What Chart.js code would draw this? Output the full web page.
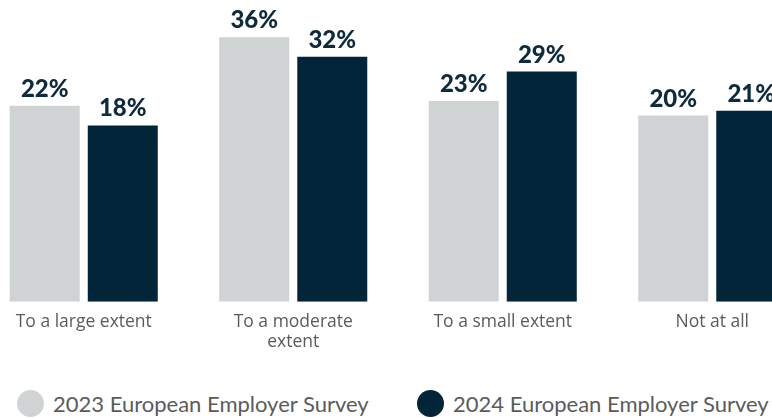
<!DOCTYPE html>
<html>
<head>
<meta charset="utf-8">
<script src="https://cdn.jsdelivr.net/npm/chart.js@4.4.1/dist/chart.umd.min.js"></script>
<style>
  body { margin: 0; width: 772px; height: 418px; overflow: hidden; background: #fff; position: relative; font-family: Lato, sans-serif; }
  #wrap { position: absolute; left: -21px; top: 0; width: 838px; height: 362px; }
  .legend-item { position: absolute; top: 389px; height: 28px; display: flex; align-items: center; color: #5b5b5b; font-size: 22px; white-space: nowrap; }
  .legend-item span.dot { width: 27px; height: 27px; border-radius: 50%; margin-right: 9px; display: inline-block; }
</style>
</head>
<body>
<div id="wrap"><canvas id="extentChart"></canvas></div>
<div class="legend-item" style="left:17px"><span class="dot" style="background:#cfd3d4"></span>2023 European Employer Survey</div>
<div class="legend-item" style="left:417px"><span class="dot" style="background:#02253a"></span>2024 European Employer Survey</div>
<script>
  // Categories and survey results (percent)
  const categories = ['To a large extent', ['To a moderate', 'extent'], 'To a small extent', 'Not at all'];
  const survey2023 = [22, 36, 23, 20];
  const survey2024 = [18, 32, 29, 21];

  const gray = '#cfd3d4';
  const navy = '#02253a';
  const axisMin = -18;

  // Draw the percent value above every bar
  const valueLabels = {
      id: 'valueLabels',
      afterDatasetsDraw(chart) {
          const ctx = chart.ctx;
          ctx.save();
          ctx.font = '900 24px Lato';
          ctx.fillStyle = '#0e2a3d';
          ctx.textAlign = 'center';
          ctx.textBaseline = 'alphabetic';
          chart.data.datasets.forEach((ds, i) => {
              chart.getDatasetMeta(i).data.forEach((bar, j) => {
                  ctx.fillText(ds.data[j] + '%', bar.x, bar.y - 9);
              });
          });
          ctx.restore();
      }
  };

  const ctx = document.getElementById('extentChart').getContext('2d');
  new Chart(ctx, {
      type: 'bar',
      data: {
          labels: categories,
          datasets: [{
              label: '2023 European Employer Survey',
              data: survey2023,
              backgroundColor: gray,
              base: axisMin,
              categoryPercentage: 0.745,
              barPercentage: 0.897
          }, {
              label: '2024 European Employer Survey',
              data: survey2024,
              backgroundColor: navy,
              base: axisMin,
              categoryPercentage: 0.745,
              barPercentage: 0.897
          }]
      },
      options: {
          responsive: true,
          maintainAspectRatio: false,
          animation: false,
          layout: { padding: 0 },
          plugins: {
              legend: { display: false },
              tooltip: { enabled: false }
          },
          scales: {
              x: {
                  grid: { display: false, drawTicks: false },
                  border: { display: false },
                  ticks: {
                      color: '#5b5b5b',
                      padding: 10,
                      maxRotation: 0,
                      autoSkip: false,
                      font: { family: '"Open Sans"', size: 17.5, lineHeight: 1.15 }
                  }
              },
              y: {
                  display: false,
                  min: axisMin,
                  max: 43.6
              }
          }
      },
      plugins: [valueLabels]
  });
</script>
</body>
</html>
